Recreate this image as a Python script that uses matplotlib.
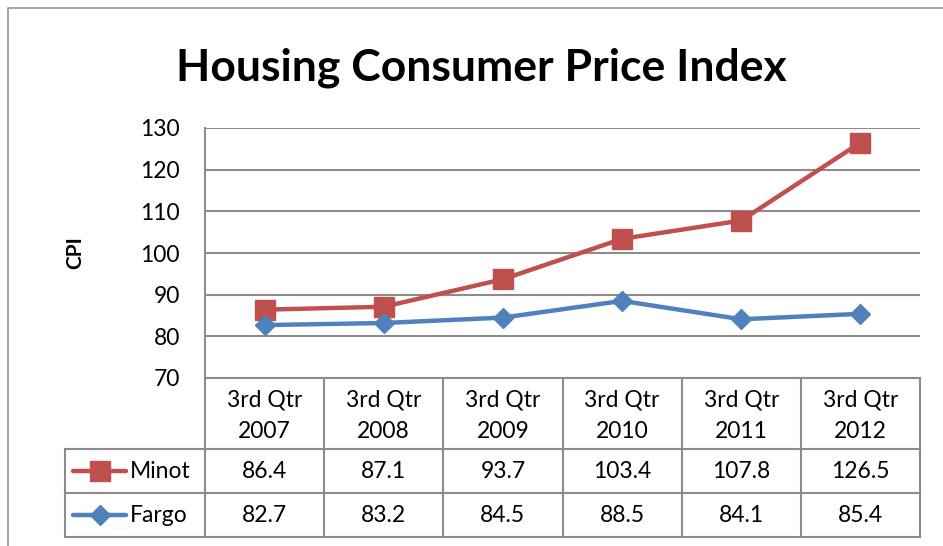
import matplotlib.pyplot as plt

# data
categories = ["3rd Qtr\n2007", "3rd Qtr\n2008", "3rd Qtr\n2009",
              "3rd Qtr\n2010", "3rd Qtr\n2011", "3rd Qtr\n2012"]
minot = [86.4, 87.1, 93.7, 103.4, 107.8, 126.5]
fargo = [82.7, 83.2, 84.5, 88.5, 84.1, 85.4]
series_names = ["Minot", "Fargo"]
yticks = [70, 80, 90, 100, 110, 120, 130]

RED = "#C0504D"
BLUE = "#4F81BD"
GRID = "#8C8C8C"
FS = 16.5

plt.rcParams["font.family"] = ["Lato", "DejaVu Sans"]

W, H = 943, 546
fig = plt.figure(figsize=(W / 100, H / 100), dpi=100)

# plot area in pixels
px_l, px_r, px_t, px_b = 205, 920, 128, 378
ax = fig.add_axes([px_l / W, 1 - px_b / H, (px_r - px_l) / W, (px_b - px_t) / H])

x = list(range(len(categories)))
ax.plot(x, minot, color=RED, lw=3.2, marker="s", ms=14,
        markeredgecolor=RED, solid_capstyle="round", zorder=3)
ax.plot(x, fargo, color=BLUE, lw=3.2, marker="D", ms=10.5,
        markeredgecolor=BLUE, solid_capstyle="round", zorder=3)

ax.set_xlim(-0.5, len(categories) - 0.5)
ax.set_ylim(70, 130)
ax.set_yticks(yticks)
ax.set_yticklabels([str(t) for t in yticks], fontsize=FS)
ax.set_xticks([])
ax.yaxis.grid(True, color=GRID, lw=1.5)
ax.tick_params(axis="y", length=0, pad=18)
for s in ["top", "right"]:
    ax.spines[s].set_visible(False)
ax.spines["left"].set_color(GRID)
ax.spines["left"].set_linewidth(1.5)
ax.spines["bottom"].set_color(GRID)
ax.spines["bottom"].set_linewidth(1.5)
ax.set_axisbelow(True)

ax.set_ylabel("CPI", fontsize=15, fontweight="bold", labelpad=40)

# overlay in pixel coordinates for table, title and border
ov = fig.add_axes([0, 0, 1, 1], zorder=-1)
ov.set_xlim(0, W)
ov.set_ylim(H, 0)
ov.axis("off")

# outer chart border
ov.plot([8, 8, W], [H, 8, 8], color="#A6A6A6", lw=1.5)

fig.text(481 / W, 1 - 68 / H, "Housing Consumer Price Index",
         ha="center", va="center", fontsize=32, fontweight="bold")

# data table
col_w = (px_r - px_l) / len(categories)
row_hdr_b = 449
row1_b = 493
row2_b = 537
leg_l = 65
lc = dict(color=GRID, lw=1.5)

for i in range(len(categories) + 1):
    xx = px_l + i * col_w
    ov.plot([xx, xx], [px_b, row2_b], **lc)
ov.plot([leg_l, leg_l], [row_hdr_b, row2_b], **lc)
for yy in [row_hdr_b, row1_b, row2_b]:
    ov.plot([leg_l, px_r], [yy, yy], **lc)

for i, cat in enumerate(categories):
    cx = px_l + (i + 0.5) * col_w
    ov.text(cx, (px_b + row_hdr_b) / 2 + 2, cat, ha="center", va="center",
            fontsize=FS, linespacing=1.6)
    ov.text(cx, (row_hdr_b + row1_b) / 2 + 1, f"{minot[i]:.1f}",
            ha="center", va="center", fontsize=FS)
    ov.text(cx, (row1_b + row2_b) / 2 + 1, f"{fargo[i]:.1f}",
            ha="center", va="center", fontsize=FS)

# legend keys in table
for yy, name, col, mk, ms in [((row_hdr_b + row1_b) / 2, series_names[0], RED, "s", 14),
                              ((row1_b + row2_b) / 2, series_names[1], BLUE, "D", 10.5)]:
    ov.plot([73, 126], [yy, yy], color=col, lw=3.2, solid_capstyle="round")
    ov.plot([99.5], [yy], color=col, marker=mk, ms=ms)
    ov.text(130, yy + 1, name, ha="left", va="center", fontsize=FS)

fig.savefig("out.png", dpi=100)
